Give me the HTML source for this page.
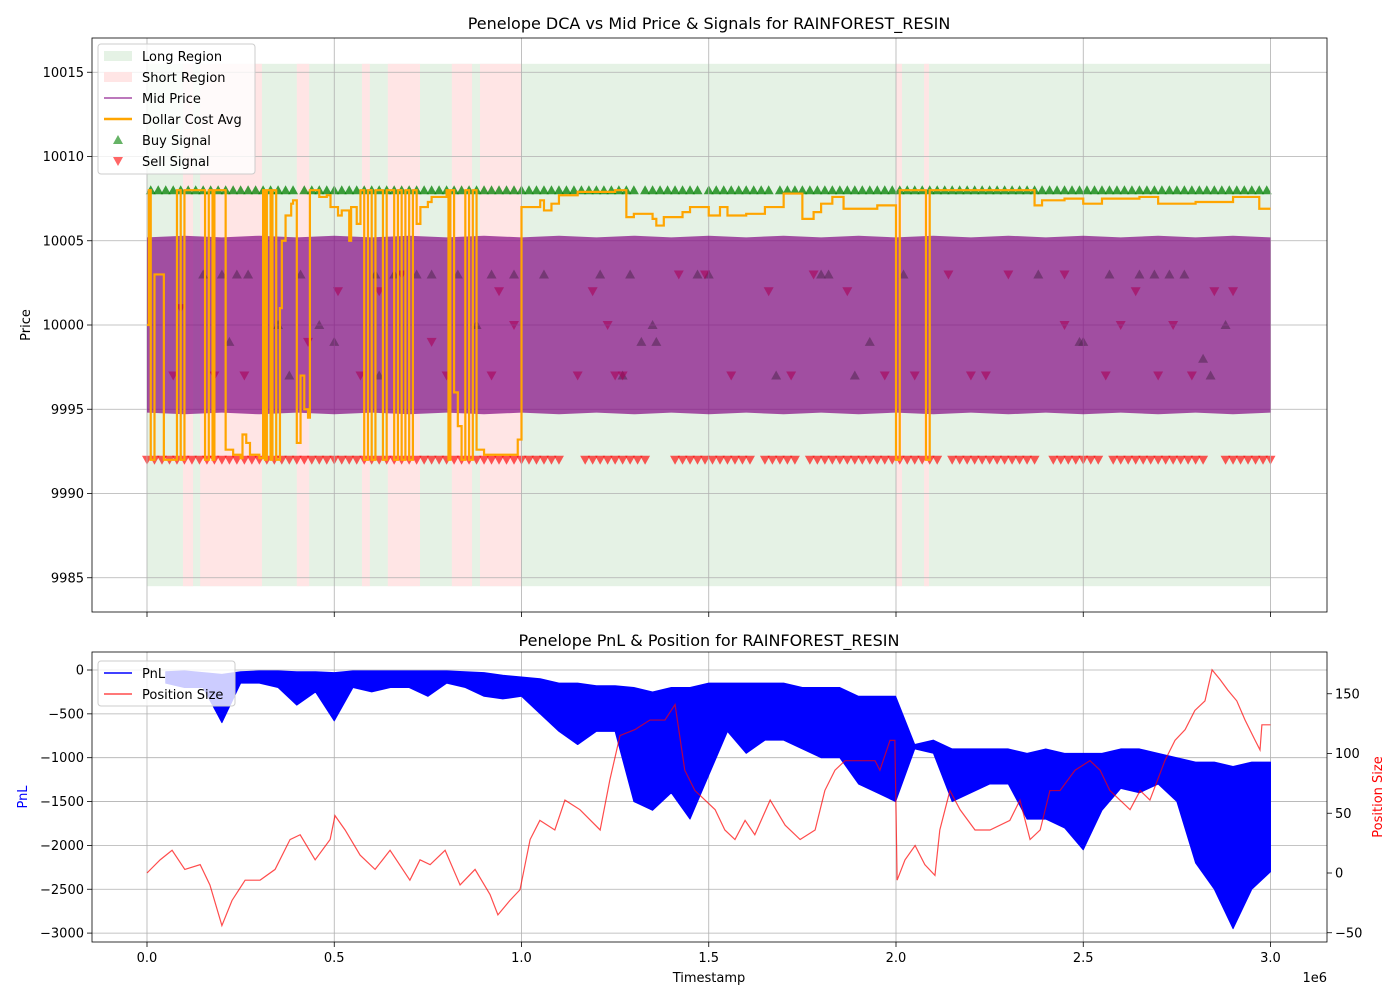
<!DOCTYPE html>
<html><head><meta charset="utf-8"><style>
html,body{margin:0;padding:0;background:#fff;}
svg{font-family:"DejaVu Sans","Liberation Sans",sans-serif;display:block;}
</style></head><body>
<svg id="fig" width="1400" height="1000" viewBox="0 0 1400 1000" xmlns="http://www.w3.org/2000/svg">
<rect x="0" y="0" width="1400" height="1000" fill="#fff"/>
<g id="topChart"></g>
<g id="botChart"></g>
</svg>
<script>
// ---------- data ----------
const shortStart = [0.096,0.142,0.40,0.574,0.643,0.814,0.889,2.0,2.075];
const shortEnd   = [0.123,0.307,0.433,0.595,0.729,0.868,1.0,2.016,2.088];
const midBinT = [0,0.1,0.2,0.3,0.4,0.5,0.6,0.7,0.8,0.9,1.0,1.1,1.2,1.3,1.4,1.5,1.6,1.7,1.8,1.9,2.0,2.1,2.2,2.3,2.4,2.5,2.6,2.7,2.8,2.9,3.0];
const midHi = [10005.2,10005.3,10005.2,10005.3,10005.2,10005.3,10005.2,10005.3,10005.2,10005.3,10005.2,10005.3,10005.2,10005.3,10005.2,10005.3,10005.2,10005.3,10005.2,10005.3,10005.2,10005.3,10005.2,10005.3,10005.2,10005.3,10005.2,10005.3,10005.2,10005.3,10005.2];
const midLo = [9994.8,9994.7,9994.8,9994.7,9994.8,9994.7,9994.8,9994.7,9994.8,9994.7,9994.8,9994.7,9994.8,9994.7,9994.8,9994.7,9994.8,9994.7,9994.8,9994.7,9994.8,9994.7,9994.8,9994.7,9994.8,9994.7,9994.8,9994.7,9994.8,9994.7,9994.8];
const dcaT = [0,0.005,0.01,0.02,0.04,0.045,0.075,0.08,0.09,0.1,0.15,0.155,0.165,0.175,0.18,0.205,0.21,0.23,0.25,0.255,0.265,0.275,0.3,0.31,0.315,0.32,0.33,0.335,0.345,0.355,0.36,0.37,0.385,0.39,0.4,0.41,0.42,0.43,0.435,0.46,0.48,0.49,0.51,0.52,0.54,0.545,0.56,0.57,0.58,0.59,0.6,0.61,0.63,0.64,0.66,0.67,0.68,0.69,0.7,0.71,0.72,0.73,0.75,0.76,0.8,0.805,0.81,0.82,0.83,0.84,0.85,0.86,0.87,0.88,0.9,0.99,1.0,1.05,1.06,1.08,1.1,1.15,1.25,1.28,1.3,1.35,1.36,1.38,1.43,1.45,1.5,1.53,1.55,1.6,1.65,1.7,1.75,1.78,1.8,1.83,1.86,1.95,2.0,2.01,2.08,2.09,2.36,2.37,2.39,2.45,2.5,2.55,2.65,2.7,2.8,2.9,2.97,3.0];
const dcaV = [10000,10008,9992,10003,10003,9992,9992,10008,9992,10008,10008,9992,10008,9992,10008,10008,9992.6,9992.3,9992.1,9993.5,9993,9992.3,9992.1,10008,9992,10008,9992,10008,9992,10001,10005,10006.5,10007.2,10007.4,9993,9997,9995,9994.5,10008,10007.6,10007.7,10007,10006.5,10006.8,10005,10007,10006,10008,9992,10008,9992,10008,9992,10008,9992,10008,9992,10008,9992,10008,10006,10007,10007.3,10007.6,10008,9992,10008,9996,9994,9992,10008,9992,10008,9992.6,9992.3,9993.2,10007,10007.4,10006.8,10007.2,10007.7,10007.9,10008,10006.4,10006.6,10006.3,10005.9,10006.4,10006.7,10007,10006.5,10007,10006.5,10006.6,10007.0,10007.8,10006.3,10006.7,10007.2,10007.6,10006.9,10007.1,9992,10008,9992,10008,10008,10007.1,10007.4,10007.5,10007.2,10007.5,10007.6,10007.2,10007.3,10007.6,10006.9,10006.9];
const buyTopT = [0.01,0.03,0.05,0.07,0.09,0.11,0.13,0.15,0.17,0.19,0.21,0.23,0.25,0.27,0.29,0.31,0.33,0.35,0.37,0.39,0.42,0.44,0.46,0.48,0.5,0.52,0.54,0.56,0.58,0.6,0.62,0.64,0.66,0.68,0.7,0.72,0.74,0.76,0.78,0.8,0.82,0.84,0.86,0.88,0.9,0.92,0.94,0.96,0.98,1.0,1.02,1.04,1.06,1.08,1.1,1.12,1.14,1.16,1.18,1.2,1.22,1.24,1.26,1.28,1.3,1.33,1.35,1.37,1.39,1.41,1.43,1.45,1.47,1.5,1.52,1.54,1.56,1.58,1.6,1.62,1.64,1.66,1.69,1.71,1.73,1.75,1.77,1.79,1.81,1.83,1.85,1.87,1.89,1.91,1.93,1.95,1.97,1.99,2.01,2.03,2.05,2.07,2.09,2.11,2.13,2.15,2.17,2.19,2.21,2.23,2.25,2.27,2.29,2.31,2.33,2.35,2.37,2.39,2.41,2.43,2.45,2.47,2.49,2.51,2.53,2.55,2.57,2.59,2.61,2.63,2.65,2.67,2.69,2.71,2.73,2.75,2.77,2.79,2.81,2.83,2.85,2.87,2.89,2.91,2.93,2.95,2.97,2.99];
const sellBotT = [0.0,0.02,0.04,0.06,0.08,0.1,0.12,0.14,0.16,0.18,0.2,0.22,0.24,0.26,0.28,0.3,0.32,0.34,0.36,0.38,0.4,0.42,0.44,0.46,0.48,0.5,0.52,0.54,0.56,0.58,0.6,0.62,0.64,0.66,0.68,0.7,0.72,0.74,0.76,0.78,0.8,0.82,0.84,0.86,0.88,0.9,0.92,0.94,0.96,0.98,1.0,1.02,1.04,1.06,1.08,1.1,1.17,1.19,1.21,1.23,1.25,1.27,1.29,1.31,1.33,1.41,1.43,1.45,1.47,1.49,1.51,1.53,1.55,1.57,1.59,1.61,1.65,1.67,1.69,1.71,1.73,1.77,1.79,1.81,1.83,1.85,1.87,1.89,1.91,1.93,1.95,1.97,1.99,2.01,2.03,2.05,2.07,2.09,2.11,2.15,2.17,2.19,2.21,2.23,2.25,2.27,2.29,2.31,2.33,2.35,2.37,2.42,2.44,2.46,2.48,2.5,2.52,2.54,2.58,2.6,2.62,2.64,2.66,2.68,2.7,2.72,2.74,2.76,2.78,2.8,2.82,2.88,2.9,2.92,2.94,2.96,2.98,3.0];
const buyMidT = [0.15,0.2,0.24,0.27,0.22,0.35,0.41,0.46,0.5,0.61,0.66,0.72,0.76,0.83,0.92,0.98,1.06,0.88,1.21,1.29,1.32,1.35,1.47,1.5,1.68,1.8,1.82,1.89,1.93,2.02,2.38,2.49,2.5,2.57,2.65,2.69,2.73,2.77,2.82,2.88,2.84,0.62,0.38,1.27,1.36];
const buyMidP = [10003,10003,10003,10003,9999,10000,10003,10000,9999,10003,10003,10003,10003,10003,10003,10003,10003,10000,10003,10003,9999,10000,10003,10003,9997,10003,10003,9997,9999,10003,10003,9999,9999,10003,10003,10003,10003,10003,9998,10000,9997,9997,9997,9997,9999];
const sellMidT = [0.07,0.09,0.18,0.26,0.43,0.51,0.57,0.62,0.68,0.76,0.8,0.92,0.94,0.98,1.15,1.19,1.25,1.27,1.42,1.49,1.56,1.66,1.72,1.78,1.87,1.97,2.05,2.14,2.2,2.24,2.3,2.45,2.56,2.6,2.64,2.7,2.79,2.85,2.9,1.23,2.45,2.74];
const sellMidP = [9997,10001,9997,9997,9999,10002,9997,10002,10003,9999,9997,9997,10002,10000,9997,10002,9997,9997,10003,10003,9997,10002,9997,10003,10002,9997,9997,10003,9997,9997,10003,10003,9997,10000,10002,9997,9997,10002,10002,10000,10000,10000];
const pnlT = [0.05,0.10,0.15,0.20,0.25,0.30,0.35,0.40,0.45,0.50,0.55,0.60,0.65,0.70,0.75,0.80,0.85,0.90,0.95,1.00,1.05,1.10,1.15,1.20,1.25,1.30,1.35,1.40,1.45,1.50,1.55,1.60,1.65,1.70,1.75,1.80,1.85,1.90,1.95,1.999,2.05,2.10,2.15,2.20,2.25,2.30,2.35,2.40,2.45,2.50,2.55,2.60,2.65,2.70,2.75,2.80,2.85,2.90,2.95,3.00];
const pnlHi = [-20,-10,-30,-50,-20,-10,-10,-20,-20,-30,-10,-10,-10,-10,-10,-10,-20,-30,-60,-80,-100,-150,-150,-180,-180,-200,-250,-200,-200,-150,-150,-150,-150,-150,-200,-200,-200,-300,-300,-300,-850,-800,-900,-900,-900,-900,-950,-900,-950,-950,-950,-900,-900,-950,-1000,-1050,-1050,-1100,-1050,-1050];
const pnlLo = [-150,-200,-200,-600,-150,-150,-200,-400,-250,-580,-200,-250,-200,-200,-300,-150,-200,-300,-330,-300,-500,-700,-850,-700,-700,-1500,-1600,-1400,-1700,-1200,-700,-950,-800,-800,-900,-1000,-1000,-1300,-1400,-1500,-900,-950,-1500,-1400,-1300,-1300,-1700,-1700,-1800,-2050,-1600,-1350,-1400,-1300,-1500,-2200,-2500,-2950,-2500,-2300];
const posT = [0,.035,.067,.101,.142,.168,.2,.227,.262,.302,.342,.382,.409,.449,.489,.502,.529,.569,.609,.649,.702,.729,.756,.796,.836,.876,.916,.937,.969,.996,1.023,1.049,1.089,1.116,1.156,1.21,1.236,1.263,1.303,1.343,1.383,1.41,1.436,1.463,1.49,1.517,1.543,1.57,1.597,1.623,1.664,1.704,1.744,1.784,1.81,1.837,1.864,1.904,1.944,1.957,1.984,1.997,2.003,2.024,2.051,2.077,2.104,2.117,2.144,2.171,2.211,2.251,2.304,2.331,2.358,2.385,2.411,2.438,2.478,2.518,2.545,2.571,2.598,2.625,2.652,2.678,2.718,2.745,2.772,2.798,2.825,2.844,2.865,2.886,2.91,2.932,2.959,2.972,2.977,3.0];
const posV = [0,11,19,3,7,-10,-44,-23,-6,-6,3,28,32,11,28,48,36,15,3,19,-6,11,7,19,-10,3,-18,-35,-23,-14,28,44,36,61,53,36,78,115,120,128,128,141,86,69,61,53,36,28,44,32,61,40,28,36,69,86,94,94,94,86,111,111,-6,11,23,7,-2,36,69,53,36,36,44,61,28,36,69,69,86,94,86,69,61,53,69,61,94,111,120,136,144,170,162,153,144,128,111,103,124,124];
const xTicks = [0,0.5,1.0,1.5,2.0,2.5,3.0];
const xTickLabels = ["0.0","0.5","1.0","1.5","2.0","2.5","3.0"];
const priceTicks = [9985,9990,9995,10000,10005,10010,10015];
const pnlTicks = [0,-500,-1000,-1500,-2000,-2500,-3000];
const posTicks = [-50,0,50,100,150];

// ---------- scales ----------
const NS="http://www.w3.org/2000/svg";
const L=92,R=1327,T1=38,B1=612,T2=652,B2=942;
const X=t=>147+(t)*374.5;
const YP=p=>325-(p-10000)*16.85;
const YL=v=>670-v*0.0877;
const YR=v=>873-v*1.195;
function mk(parent,tag,attrs,text){const e=document.createElementNS(NS,tag);for(const k in attrs)e.setAttribute(k,attrs[k]);if(text!==undefined)e.textContent=text;parent.appendChild(e);return e;}
const gTop=document.getElementById('topChart'), gBot=document.getElementById('botChart');

// ---------- top chart ----------
let e=mk(gTop,'rect',{x:X(0),y:YP(10015.5),width:X(3)-X(0),height:YP(9984.5)-YP(10015.5),fill:'#e5f2e5'});


for(let i=0;i<shortStart.length;i++){
  e=mk(gTop,'rect',{x:X(shortStart[i]),y:YP(10015.5),width:X(shortEnd[i])-X(shortStart[i]),height:YP(9984.5)-YP(10015.5),fill:'#ffe5e5'});
  
  
}
function tri(parent,x,y,up,fill,op){const s=5;const d=up?`M${x},${y-s} L${x+s},${y+s*0.8} L${x-s},${y+s*0.8}Z`:`M${x},${y+s} L${x+s},${y-s*0.8} L${x-s},${y-s*0.8}Z`;return mk(parent,'path',{d:d,fill:fill,'fill-opacity':op});}
for(const t of buyTopT){e=tri(gTop,X(t),YP(10008),true,'#008000',0.75);
  
  }
for(const t of sellBotT){e=tri(gTop,X(t),YP(9992),false,'#ff0000',0.65);
  
  }
for(let i=0;i<buyMidT.length;i++){e=tri(gTop,X(buyMidT[i]),YP(buyMidP[i]),true,'#008000',0.6);
  
  }
for(let i=0;i<sellMidT.length;i++){e=tri(gTop,X(sellMidT[i]),YP(sellMidP[i]),false,'#ff0000',0.6);
  
  }
for(const t of xTicks){mk(gTop,'line',{x1:X(t),x2:X(t),y1:T1,y2:B1,stroke:'#b0b0b0','stroke-width':0.8});}
for(const p of priceTicks){mk(gTop,'line',{x1:L,x2:R,y1:YP(p),y2:YP(p),stroke:'#b0b0b0','stroke-width':0.8});}
let d='';
midBinT.forEach((t,i)=>{d+=(i?'L':'M')+X(t)+','+YP(midHi[i])+' ';});
for(let i=midBinT.length-1;i>=0;i--){d+='L'+X(midBinT[i])+','+YP(midLo[i])+' ';}
e=mk(gTop,'path',{d:d+'Z',fill:'#800080','fill-opacity':0.68});


d='';
dcaT.forEach((t,i)=>{if(i===0)d+='M'+X(t)+','+YP(dcaV[i]);else d+=' L'+X(t)+','+YP(dcaV[i-1])+' L'+X(t)+','+YP(dcaV[i]);});
e=mk(gTop,'path',{d:d,fill:'none',stroke:'#ffa500','stroke-width':2.2,'stroke-linejoin':'miter'});


mk(gTop,'rect',{x:L,y:T1,width:R-L,height:B1-T1,fill:'none',stroke:'#000','stroke-width':0.8});
for(const t of xTicks){mk(gTop,'line',{x1:X(t),x2:X(t),y1:B1,y2:B1+5,stroke:'#000','stroke-width':0.8});}
priceTicks.forEach(p=>{mk(gTop,'line',{x1:L-5,x2:L,y1:YP(p),y2:YP(p),stroke:'#000','stroke-width':0.8});
  e=mk(gTop,'text',{x:L-8,y:YP(p)+4.5,'text-anchor':'end','font-size':13,fill:'#000'},String(p));
  
  });
e=mk(gTop,'text',{x:709,y:29,'text-anchor':'middle','font-size':16},'Penelope DCA vs Mid Price & Signals for RAINFOREST_RESIN');


e=mk(gTop,'text',{x:30,y:325,'text-anchor':'middle','font-size':13,transform:'rotate(-90 30 325)'},'Price');


const lg=mk(gTop,'g',{});


mk(lg,'rect',{x:98,y:44,width:157,height:130,rx:3,fill:'#fff','fill-opacity':0.8,stroke:'#cccccc'});
mk(lg,'rect',{x:104,y:51,width:28,height:10,fill:'#e5f2e5'});
mk(lg,'rect',{x:104,y:72,width:28,height:10,fill:'#ffe5e5'});
mk(lg,'line',{x1:104,x2:132,y1:98,y2:98,stroke:'#a64ca6','stroke-width':1.5});
mk(lg,'line',{x1:104,x2:132,y1:119,y2:119,stroke:'#ffa500','stroke-width':2.5});
tri(lg,118,140,true,'#008000',0.6);tri(lg,118,161,false,'#ff0000',0.6);
['Long Region','Short Region','Mid Price','Dollar Cost Avg','Buy Signal','Sell Signal'].forEach((s,i)=>{
  e=mk(lg,'text',{x:142,y:61+i*21,'font-size':13},s);
  
  });

// ---------- bottom chart ----------
for(const t of xTicks){mk(gBot,'line',{x1:X(t),x2:X(t),y1:T2,y2:B2,stroke:'#b0b0b0','stroke-width':0.8});}
for(const v of pnlTicks){mk(gBot,'line',{x1:L,x2:R,y1:YL(v),y2:YL(v),stroke:'#b0b0b0','stroke-width':0.8});}
d='';
pnlT.forEach((t,i)=>{d+=(i?'L':'M')+X(t)+','+YL(pnlHi[i])+' ';});
for(let i=pnlT.length-1;i>=0;i--){d+='L'+X(pnlT[i])+','+YL(pnlLo[i])+' ';}
e=mk(gBot,'path',{d:d+'Z',fill:'#0000ff',stroke:'#0000ff','stroke-width':1,'stroke-linejoin':'round'});


d='';
posT.forEach((t,i)=>{d+=(i?'L':'M')+X(t)+','+YR(posV[i])+' ';});
e=mk(gBot,'path',{d:d,fill:'none',stroke:'#ff0000','stroke-opacity':0.7,'stroke-width':1.2});


mk(gBot,'rect',{x:L,y:T2,width:R-L,height:B2-T2,fill:'none',stroke:'#000','stroke-width':0.8});
xTicks.forEach((t,i)=>{mk(gBot,'line',{x1:X(t),x2:X(t),y1:B2,y2:B2+5,stroke:'#000','stroke-width':0.8});
  e=mk(gBot,'text',{x:X(t),y:962,'text-anchor':'middle','font-size':13},xTickLabels[i]);
  
  });
pnlTicks.forEach(v=>{mk(gBot,'line',{x1:L-5,x2:L,y1:YL(v),y2:YL(v),stroke:'#000','stroke-width':0.8});
  e=mk(gBot,'text',{x:L-8,y:YL(v)+4.5,'text-anchor':'end','font-size':13},v<0?'\u2212'+(-v):String(v));
  
  });
posTicks.forEach(v=>{mk(gBot,'line',{x1:R,x2:R+5,y1:YR(v),y2:YR(v),stroke:'#000','stroke-width':0.8});
  e=mk(gBot,'text',{x:R+8,y:YR(v)+4.5,'text-anchor':'start','font-size':13},v<0?'\u2212'+(-v):String(v));
  
  });
e=mk(gBot,'text',{x:709,y:646,'text-anchor':'middle','font-size':16},'Penelope PnL & Position for RAINFOREST_RESIN');


e=mk(gBot,'text',{x:709,y:982,'text-anchor':'middle','font-size':13},'Timestamp');


e=mk(gBot,'text',{x:1327,y:982,'text-anchor':'end','font-size':13},'1e6');


e=mk(gBot,'text',{x:27,y:797,'text-anchor':'middle','font-size':13,fill:'#0000ff',transform:'rotate(-90 27 797)'},'PnL');


e=mk(gBot,'text',{x:1382,y:797,'text-anchor':'middle','font-size':13,fill:'#ff0000',transform:'rotate(-90 1382 797)'},'Position Size');


const lg2=mk(gBot,'g',{});


mk(lg2,'rect',{x:98,y:661,width:137,height:45,rx:3,fill:'#fff','fill-opacity':0.8,stroke:'#cccccc'});
mk(lg2,'line',{x1:104,x2:132,y1:673,y2:673,stroke:'#0000ff','stroke-width':1.5});
mk(lg2,'line',{x1:104,x2:132,y1:694,y2:694,stroke:'#ff0000','stroke-opacity':0.7,'stroke-width':1.5});
['PnL','Position Size'].forEach((s,i)=>{
  e=mk(lg2,'text',{x:142,y:678+i*21,'font-size':13},s);
  
  });
</script>
</body></html>
